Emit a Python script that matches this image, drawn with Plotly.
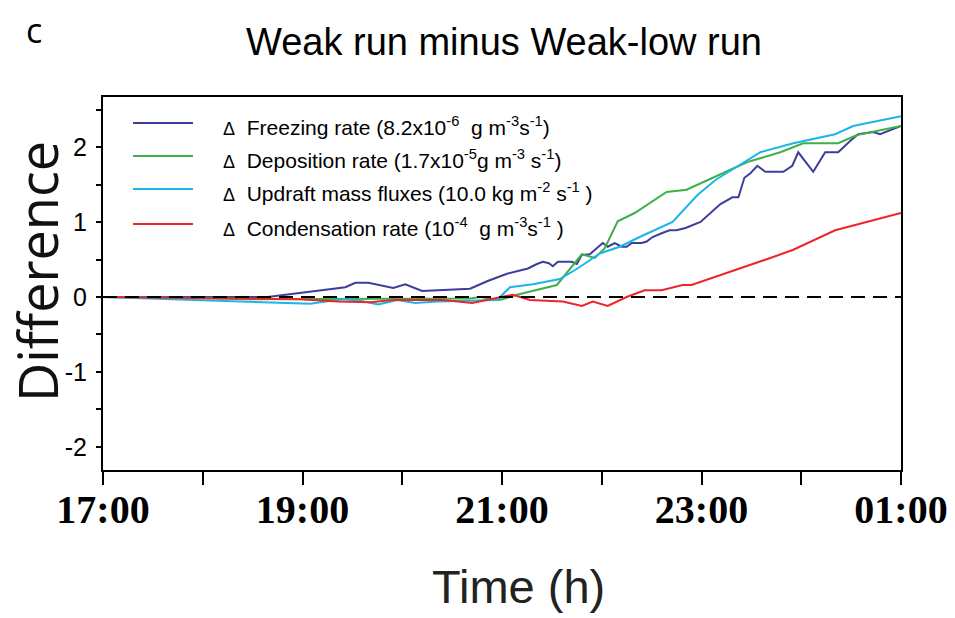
import plotly.graph_objects as go

# Time axis in hours (17 = 17:00, 25 = 01:00 next day)
tick_hours = [17, 19, 21, 23, 25]
tick_labels = ["17:00", "19:00", "21:00", "23:00", "01:00"]
ytick_vals = [-2, -1, 0, 1, 2]
ytick_text = ["-2", "-1", "0", "1", "2"]

# Δ Freezing rate
freeze_t = [17.0, 18.65, 19.43, 19.53, 19.66, 19.91, 20.03, 20.20, 20.68, 20.85,
            21.05, 21.26, 21.35, 21.41, 21.47, 21.51, 21.56, 21.70, 21.75, 21.80,
            21.88, 21.95, 22.01, 22.06, 22.13, 22.20, 22.25, 22.30, 22.40, 22.45,
            22.51, 22.60, 22.68, 22.75, 22.84, 22.99, 23.09, 23.19, 23.31, 23.37,
            23.43, 23.49, 23.56, 23.64, 23.82, 23.91, 23.97, 24.12, 24.24, 24.37,
            24.49, 24.57, 24.72, 24.79, 25.0]
freeze_v = [0.0, 0.0, 0.13, 0.19, 0.19, 0.12, 0.17, 0.08, 0.11, 0.21,
            0.31, 0.38, 0.44, 0.47, 0.45, 0.41, 0.47, 0.47, 0.44, 0.56,
            0.57, 0.65, 0.72, 0.67, 0.72, 0.67, 0.67, 0.72, 0.72, 0.74,
            0.80, 0.85, 0.89, 0.89, 0.92, 1.00, 1.12, 1.24, 1.33, 1.33,
            1.59, 1.65, 1.75, 1.67, 1.67, 1.75, 1.93, 1.67, 1.93, 1.93,
            2.08, 2.17, 2.20, 2.17, 2.28]

# Δ Deposition rate
depo_t = [17.0, 17.8, 18.47, 19.2, 19.98, 20.4, 20.68, 20.78, 20.98, 21.15,
          21.55, 21.80, 21.93, 22.03, 22.16, 22.33, 22.65, 22.85, 23.46, 23.79,
          24.02, 24.37, 24.56, 25.0]
depo_v = [0.0, -0.01, -0.03, -0.03, -0.02, -0.03, -0.02, 0.0, -0.04, 0.03,
          0.16, 0.57, 0.52, 0.65, 1.01, 1.12, 1.40, 1.43, 1.80, 1.93,
          2.05, 2.05, 2.16, 2.28]

# Δ Updraft mass fluxes
updr_t = [17.0, 18.47, 19.08, 19.28, 19.43, 19.58, 19.76, 19.95, 20.13, 20.35,
          20.95, 21.08, 21.31, 21.58, 21.78, 21.98, 22.18, 22.38, 22.71, 22.96,
          23.14, 23.59, 23.92, 24.34, 24.52, 25.0]
updr_v = [0.0, -0.07, -0.09, -0.05, -0.03, -0.05, -0.10, -0.04, -0.08, -0.06,
          -0.04, 0.13, 0.17, 0.24, 0.40, 0.58, 0.67, 0.80, 1.00, 1.36,
          1.56, 1.93, 2.05, 2.17, 2.28, 2.41]

# Δ Condensation rate
cond_t = [17.0, 18.97, 19.35, 19.68, 19.91, 20.41, 20.70, 20.88, 21.11, 21.28,
          21.61, 21.80, 21.91, 22.06, 22.25, 22.43, 22.60, 22.81, 22.90, 23.69,
          23.92, 24.34, 25.0]
cond_v = [0.0, -0.03, -0.06, -0.07, -0.04, -0.04, -0.08, -0.03, 0.03, -0.04,
          -0.06, -0.12, -0.06, -0.12, 0.0, 0.09, 0.09, 0.16, 0.16, 0.52,
          0.63, 0.89, 1.12]

series_t = [freeze_t, depo_t, updr_t, cond_t]
series_v = [freeze_v, depo_v, updr_v, cond_v]
series_names = [
    "Δ Freezing rate",
    "Δ Deposition rate",
    "Δ Updraft mass fluxes",
    "Δ Condensation rate",
]
legend_texts = [
    "Freezing rate (8.2x10<sup>-6</sup>  g m<sup>-3</sup>s<sup>-1</sup>)",
    "Deposition rate (1.7x10<sup>-5</sup>g m<sup>-3</sup> s<sup>-1</sup>)",
    "Updraft mass fluxes (10.0 kg m<sup>-2</sup> s<sup>-1</sup> )",
    "Condensation rate (10<sup>-4</sup>  g m<sup>-3</sup>s<sup>-1</sup> )",
]
series_colors = ["#3d3d9c", "#3fb048", "#1cb5e8", "#ee2528"]

fig = go.Figure()
for t, v, name, color in zip(series_t, series_v, series_names, series_colors):
    fig.add_trace(go.Scatter(x=t, y=v, mode="lines", name=name,
                             line=dict(color=color, width=2),
                             showlegend=False))

# zero reference line
fig.add_shape(type="line", xref="x", yref="y", x0=17, x1=25, y0=0, y1=0,
              line=dict(color="black", width=2, dash="14px,8px"))

PLOT_L, PLOT_R, PLOT_T, PLOT_B = 103, 901, 97, 470
W, H = 955, 618


def px_to_paper_x(px):
    return (px - PLOT_L) / (PLOT_R - PLOT_L)


def px_to_paper_y(py):
    return (PLOT_B - py) / (PLOT_B - PLOT_T)


# legend drawn as short line samples with labels
legend_y = [123, 156, 189, 224]
for yy, txt, color in zip(legend_y, legend_texts, series_colors):
    fig.add_shape(type="line", xref="paper", yref="paper",
                  x0=px_to_paper_x(133), x1=px_to_paper_x(193),
                  y0=px_to_paper_y(yy), y1=px_to_paper_y(yy),
                  line=dict(color=color, width=2))
    fig.add_annotation(xref="paper", yref="paper",
                       x=px_to_paper_x(221), y=px_to_paper_y(yy + 3),
                       xanchor="left", yanchor="middle", showarrow=False,
                       text="<span style='font-size:18px'>Δ</span>  " + txt,
                       font=dict(family="Liberation Sans, Arial", size=21,
                                 color="black"))

# panel letter
fig.add_annotation(xref="paper", yref="paper",
                   x=px_to_paper_x(34), y=px_to_paper_y(30),
                   xanchor="center", yanchor="middle", showarrow=False,
                   text="c", font=dict(family="Open Sans", size=34, color="black"))

# axis titles
fig.add_annotation(xref="paper", yref="paper",
                   x=px_to_paper_x(518), y=px_to_paper_y(586),
                   xanchor="center", yanchor="middle", showarrow=False,
                   text="Time (h)",
                   font=dict(family="Liberation Sans", size=47, color="#222"))
fig.add_annotation(xref="paper", yref="paper",
                   x=px_to_paper_x(37), y=px_to_paper_y(272),
                   xanchor="center", yanchor="middle", showarrow=False,
                   textangle=-90, text="Difference",
                   font=dict(family="Open Sans", size=54, color="#111"))

fig.update_layout(
    width=W, height=H,
    margin=dict(l=PLOT_L, r=W - PLOT_R, t=PLOT_T, b=H - PLOT_B),
    plot_bgcolor="white", paper_bgcolor="white",
    title=dict(text="Weak run minus Weak-low run",
               x=504 / W, xanchor="center", y=(H - 42) / H, yanchor="middle",
               xref="container", yref="container",
               font=dict(family="Liberation Sans", size=38, color="black")),
    xaxis=dict(range=[17, 25], tickmode="array", tickvals=tick_hours,
               ticktext=tick_labels, ticks="outside", ticklen=13, tickwidth=1.5,
               tickcolor="black", showline=True, linecolor="black", linewidth=2,
               mirror=True, showgrid=False, zeroline=False, automargin=False,
               ticklabelstandoff=-10,
               minor=dict(ticks="outside", ticklen=13, tickwidth=1.5,
                          tickcolor="black", tick0=17, dtick=1, showgrid=False),
               tickfont=dict(family="Liberation Serif", size=40, color="black",
                             weight="bold")),
    yaxis=dict(range=[-2.307, 2.667], tickmode="array", tickvals=ytick_vals,
               ticktext=ytick_text, ticks="outside", ticklen=5, tickwidth=1.5,
               tickcolor="black", showline=True, linecolor="black", linewidth=2,
               mirror=True, showgrid=False, zeroline=False, automargin=False,
               minor=dict(ticks="outside", ticklen=5, tickwidth=1.5,
                          tickcolor="black", tick0=0, dtick=0.5, showgrid=False),
               ticklabelstandoff=4,
               tickfont=dict(family="Liberation Sans", size=25, color="black")),
)

fig.write_html("out.html")
